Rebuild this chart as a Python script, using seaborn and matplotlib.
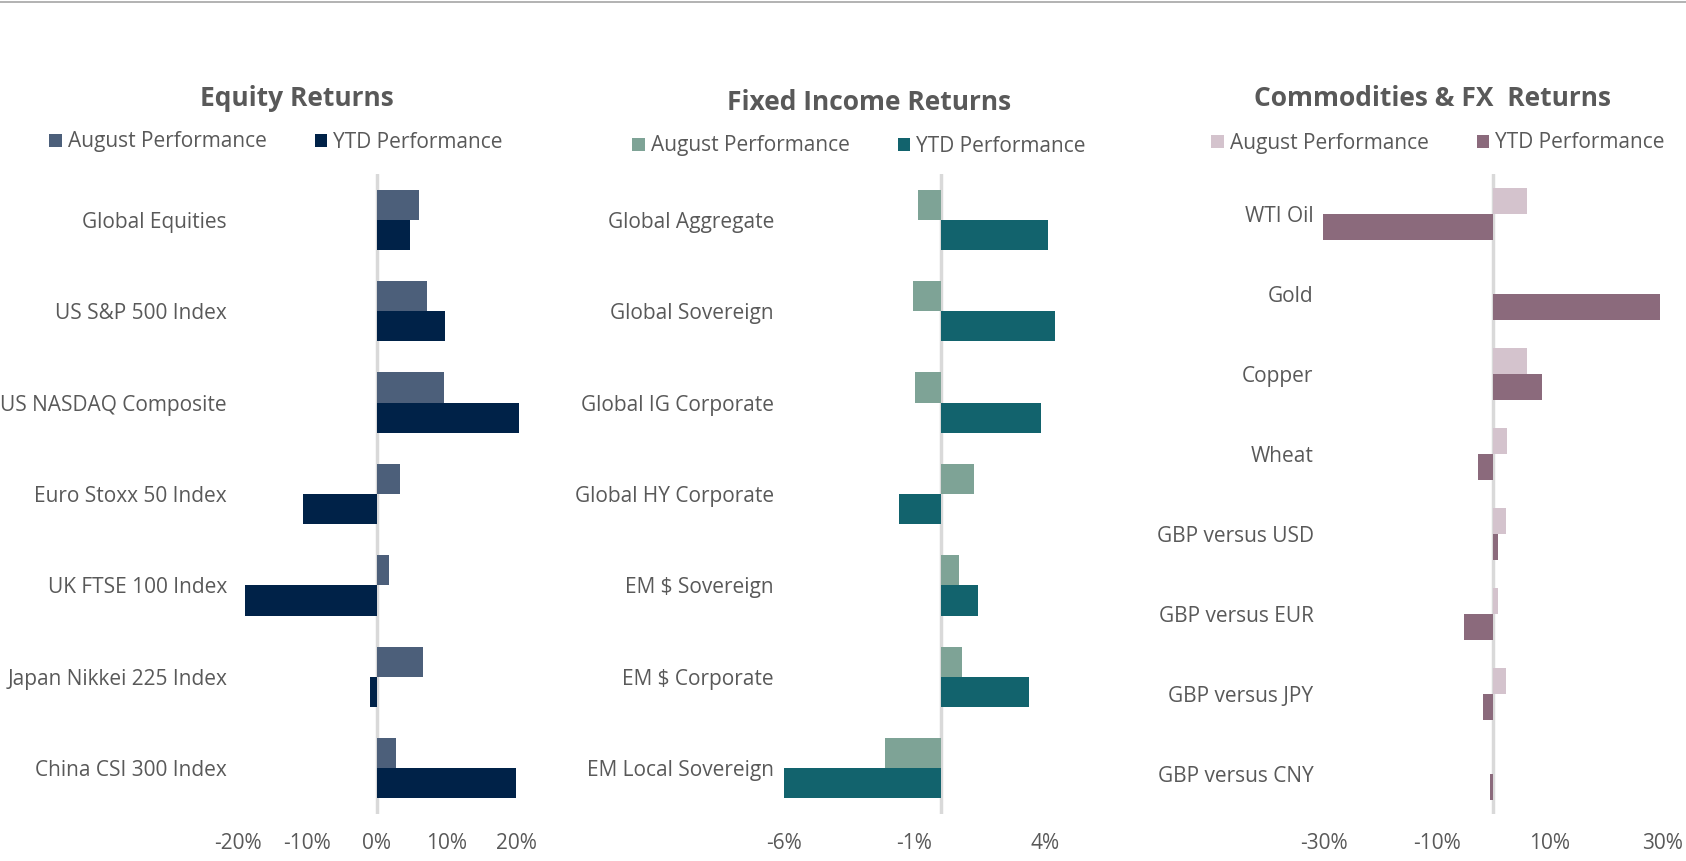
import pandas as pd
import seaborn as sns
from matplotlib import pyplot as plt
from matplotlib.lines import Line2D
from matplotlib.ticker import PercentFormatter


periods = ["August Performance", "YTD Performance"]

equity_names = ["Global Equities", "US S&P 500 Index", "US NASDAQ Composite", "Euro Stoxx 50 Index",
                "UK FTSE 100 Index", "Japan Nikkei 225 Index", "China CSI 300 Index"]
equity_aug = [0.061, 0.072, 0.097, 0.033, 0.017, 0.067, 0.028]
equity_ytd = [0.048, 0.098, 0.204, -0.106, -0.189, -0.010, 0.200]

fixed_names = ["Global Aggregate", "Global Sovereign", "Global IG Corporate", "Global HY Corporate",
               "EM $ Sovereign", "EM $ Corporate", "EM Local Sovereign"]
fixed_aug = [-0.0086, -0.0107, -0.0097, 0.0129, 0.0071, 0.0084, -0.0214]
fixed_ytd = [0.0414, 0.0440, 0.0386, -0.0159, 0.0143, 0.0339, -0.0602]

comm_names = ["WTI Oil", "Gold", "Copper", "Wheat", "GBP versus USD", "GBP versus EUR",
              "GBP versus JPY", "GBP versus CNY"]
comm_aug = [0.059, 0.0, 0.060, 0.024, 0.022, 0.008, 0.022, 0.0]
comm_ytd = [-0.301, 0.295, 0.087, -0.027, 0.009, -0.052, -0.019, -0.006]


def to_long(names, aug, ytd):
    """Builds a long table that seaborn can split by hue."""
    return pd.DataFrame({
        "asset": names * 2,
        "value": aug + ytd,
        "period": [periods[0]] * len(names) + [periods[1]] * len(names),
    })


W, H = 1686, 861
sns.set_style("white")
plt.rcParams["font.family"] = ["Open Sans", "DejaVu Sans"]
plt.rcParams["axes.unicode_minus"] = False
grey = "#595959"
fs = 15

fig = plt.figure(figsize=(W / 100, H / 100), dpi=100)

panels = [
    dict(title="Equity Returns", names=equity_names, aug=equity_aug, ytd=equity_ytd,
         colors=["#4c5f7a", "#002248"], xlim=(-0.20, 0.20), ticks=[-0.2, -0.1, 0, 0.1, 0.2],
         left=237.5, right=516, title_xy=(297, 99), legend_xy=(276, 142)),
    dict(title="Fixed Income Returns", names=fixed_names, aug=fixed_aug, ytd=fixed_ytd,
         colors=["#7ea396", "#12636d"], xlim=(-0.06, 0.06), ticks=[-0.06, -0.01, 0.04],
         left=784.3, right=1096.8, title_xy=(869, 102), legend_xy=(859, 146)),
    dict(title="Commodities & FX  Returns", names=comm_names, aug=comm_aug, ytd=comm_ytd,
         colors=["#d4c3cd", "#8b6a7c"], xlim=(-0.30, 0.30), ticks=[-0.3, -0.1, 0.1, 0.3],
         left=1324, right=1662.6, title_xy=(1433, 99), legend_xy=(1438, 143)),
]

top, bottom = 174, 814

for p in panels:
    ax = fig.add_axes([p["left"] / W, 1 - bottom / H, (p["right"] - p["left"]) / W, (bottom - top) / H])
    df = to_long(p["names"], p["aug"], p["ytd"])
    sns.barplot(data=df, y="asset", x="value", hue="period", orient="h", width=0.66,
                palette=p["colors"], ax=ax, dodge=True, saturation=1, gap=0)
    for bar in ax.patches:
        bar.set_clip_on(False)
        bar.set_edgecolor("none")
    n = len(p["names"])
    ax.set_ylim(n - 0.5, -0.5)
    ax.set_xlim(*p["xlim"])
    ax.set_xticks(p["ticks"])
    ax.xaxis.set_major_formatter(PercentFormatter(1.0, decimals=0))
    ax.axvline(0, color="#d9d9d9", lw=2.5, zorder=0)
    for s in ax.spines.values():
        s.set_visible(False)
    ax.set_xlabel("")
    ax.set_ylabel("")
    ax.tick_params(axis="both", length=0, labelsize=fs, colors=grey)
    ax.tick_params(axis="x", pad=14)
    ax.tick_params(axis="y", pad=7.5)

    ax.legend(ncol=2, loc="center", frameon=False,
              bbox_to_anchor=(p["legend_xy"][0] / W, 1 - p["legend_xy"][1] / H),
              bbox_transform=fig.transFigure, fontsize=fs, labelcolor=grey,
              handlelength=0.6, handleheight=0.6, handletextpad=0.3, columnspacing=2.3)

    fig.text(p["title_xy"][0] / W, 1 - p["title_xy"][1] / H, p["title"], ha="center", va="center",
             fontsize=19, fontweight="bold", color=grey)

fig.add_artist(Line2D([0, 1], [1 - 1.5 / H, 1 - 1.5 / H], color="#a6a6a6", lw=1.2))

plt.savefig("out.png", dpi=100)
